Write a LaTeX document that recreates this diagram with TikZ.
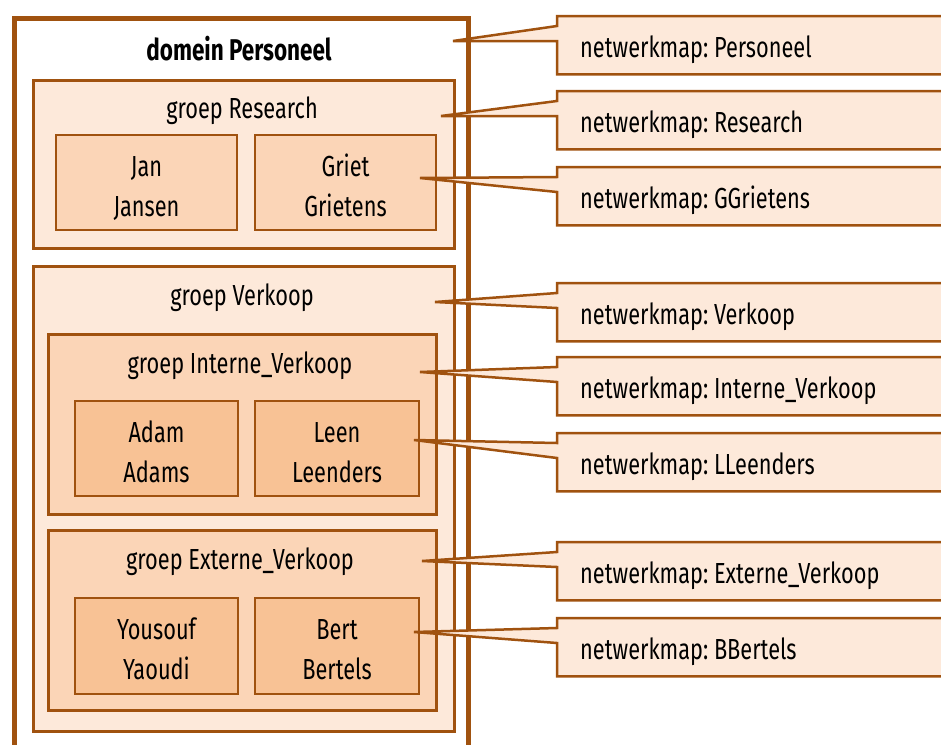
\documentclass[tikz,border=0pt]{standalone}
\usepackage{fontspec}
\setmainfont{Fira Sans}[FakeStretch=0.75]
\usetikzlibrary{calc}
\definecolor{brn}{HTML}{A0520F}
\definecolor{fillA}{HTML}{FDE9DA}
\definecolor{fillB}{HTML}{FBD5B7}
\definecolor{fillC}{HTML}{F8C295}
\frenchspacing
\tikzset{
  box/.style={draw=brn, rectangle, anchor=north west, inner sep=0pt},
  domainbox/.style={box, line width=5pt, fill=white},
  groupA/.style={box, line width=3pt, fill=fillA},
  groupB/.style={box, line width=2.5pt, fill=fillB},
  personB/.style={box, line width=2pt, fill=fillB},
  personC/.style={box, line width=2pt, fill=fillC},
  ptext/.style={anchor=base, inner sep=0pt, font=\fontsize{29}{34}\selectfont},
  title/.style={font=\fontsize{29}{34}\selectfont, inner sep=0pt},
  callbox/.style={rectangle, anchor=north west, minimum height=58pt, minimum width=403pt, inner sep=0pt},
  calltext/.style={anchor=base west, inner sep=0pt, font=\fontsize{29}{34}\selectfont},
  callline/.style={draw=brn, fill=fillA, line width=2.5pt, line join=miter},
}
\begin{document}
\begin{tikzpicture}[x=1pt,y=-1pt]
\useasboundingbox (0,0) rectangle (941,744);
\clip (0,0) rectangle (941,744);
% domain
\node[domainbox, minimum width=454pt, minimum height=760pt] (dom) at (12,16) {};
\node[title, font=\bfseries\fontsize{30}{34}\selectfont] (domt) at (239,49) {domein Personeel};
% research
\node[groupA, minimum width=421pt, minimum height=168pt] (res) at (32,79) {};
\node[title] (rest) at (242,111) {groep Research};
\node[personB, minimum width=181pt, minimum height=95pt] (jan) at (55,134) {};
\node[personB, minimum width=181pt, minimum height=95pt] (griet) at (254,134) {};
% verkoop
\node[groupA, minimum width=421pt, minimum height=465pt] (ver) at (32,265) {};
\node[title] (vert) at (242,298) {groep Verkoop};
\node[groupB, minimum width=388pt, minimum height=180pt] (int) at (47,333) {};
\node[title] (intt) at (240,366) {groep Interne\_Verkoop};
\node[personC, minimum width=163pt, minimum height=95pt] (adam) at (74,400) {};
\node[personC, minimum width=164pt, minimum height=95pt] (leen) at (254,400) {};
\node[groupB, minimum width=388pt, minimum height=180pt] (ext) at (47,529) {};
\node[title] (extt) at (240,562) {groep Externe\_Verkoop};
\node[personC, minimum width=163pt, minimum height=96pt] (you) at (74,597) {};
\node[personC, minimum width=164pt, minimum height=96pt] (bert) at (254,597) {};
% person names
\foreach \b/\first/\last in {jan/Jan/Jansen, griet/Griet/Grietens, adam/Adam/Adams, leen/Leen/Leenders, you/Yousouf/Yaoudi, bert/Bert/Bertels}{
  \node[ptext] (\b-1) at ($(\b.north)+(0,42)$) {\first};
  \node[ptext] (\b-2) at ($(\b.north)+(0,82)$) {\last};
}
% anchors
\coordinate (aP) at (453,41);
\coordinate (aR) at (441,116);
\coordinate (aG) at (420,178);
\coordinate (aV) at (435,302);
\coordinate (aI) at (420,372);
\coordinate (aL) at (414,440);
\coordinate (aE) at (422,561);
\coordinate (aB) at (414,632);
% callouts
\foreach \nm/\T/\a in {cP/16/aP, cR/91/aR, cG/167/aG, cV/283/aV, cI/357/aI, cL/433/aL, cE/542/aE, cB/618/aB}{
  \node[callbox] (\nm) at (557,\T) {};
  \draw[callline] (\nm.north east) -- (\nm.north west) -- ($(\nm.north west)+(0,10)$) -- (\a) -- ($(\nm.north west)+(0,25)$) -- (\nm.south west) -- (\nm.south east) -- cycle;
}
\foreach \nm/\txt in {cP/Personeel, cR/Research, cG/GGrietens, cV/Verkoop, cI/Interne\_Verkoop, cL/LLeenders, cE/Externe\_Verkoop, cB/BBertels}{
  \node[calltext] (\nm-t) at ($(\nm.north west)+(23,41)$) {netwerkmap: \txt};
}
\end{tikzpicture}
\end{document}
